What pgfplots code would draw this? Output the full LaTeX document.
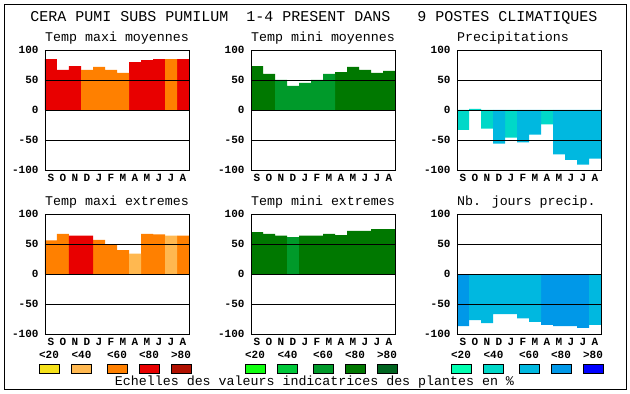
\documentclass[border=0pt]{standalone}
\usepackage{pgfplots}
\pgfplotsset{compat=1.18}
\usepackage{fontspec}
\setmainfont{Liberation Mono}
\setmonofont{Liberation Mono}
\definecolor{tyel}{HTML}{F5E11A}
\definecolor{tlor}{HTML}{FFB850}
\definecolor{tor}{HTML}{FF8000}
\definecolor{tred}{HTML}{E80000}
\definecolor{tdred}{HTML}{B01000}
\definecolor{ga}{HTML}{10FF10}
\definecolor{gb}{HTML}{00C83A}
\definecolor{gc}{HTML}{009A2A}
\definecolor{gd}{HTML}{007800}
\definecolor{ge}{HTML}{006420}
\definecolor{ba}{HTML}{00FFB0}
\definecolor{bb}{HTML}{00D8C8}
\definecolor{bc}{HTML}{00B8E0}
\definecolor{bd}{HTML}{0098E8}
\definecolor{be}{HTML}{0000FF}
\pgfplotsset{panel/.style={
  scale only axis, width=144pt, height=120pt, anchor=south west,
  xmin=-0.5, xmax=11.5, ymin=-100, ymax=100,
  ytick={-100,-50,0,50,100},
  xtick={0,...,11}, xticklabels={S,O,N,D,J,F,M,A,M,J,J,A},
  tick label style={font=\fontsize{11}{11}\selectfont\bfseries},
  /pgf/number format/assume math mode=true,
  major tick length=0pt,
  yticklabel style={xshift=-3pt},
  xticklabel style={yshift=-0.5pt},
  ymajorgrids, grid style={black, line width=0.9pt},
  axis line style={line width=0.9pt},
  axis on top,
  ybar, bar width=12pt, bar shift=0pt,
  every axis plot/.append style={draw=none},
}}
\newcommand\ttl[1]{\fontsize{13.3}{14}\selectfont #1}
\begin{document}
\begin{tikzpicture}
\useasboundingbox (0pt,0pt) rectangle (630pt,394pt);
\draw[line width=1pt] (4.5pt,4pt) rectangle (626pt,389.5pt);
\node[font=\fontsize{15}{16}\selectfont] at (314pt,376pt) {CERA PUMI SUBS PUMILUM\ \ 1-4 PRESENT DANS\ \ \ 9 POSTES CLIMATIQUES};
% titles
\node[anchor=west,inner sep=0pt] at (45pt,356pt) {\ttl{Temp maxi moyennes}};
\node[anchor=west,inner sep=0pt] at (251pt,356pt) {\ttl{Temp mini moyennes}};
\node[anchor=west,inner sep=0pt] at (457pt,356pt) {\ttl{Precipitations}};
\node[anchor=west,inner sep=0pt] at (45pt,192pt) {\ttl{Temp maxi extremes}};
\node[anchor=west,inner sep=0pt] at (251pt,192pt) {\ttl{Temp mini extremes}};
\node[anchor=west,inner sep=0pt] at (457pt,192pt) {\ttl{Nb. jours precip.}};

% Panel 1
\begin{axis}[panel, at={(45pt,224pt)}]
\addplot[fill=tred] coordinates {(0,85) (1,67) (2,73) (7,80) (8,83) (9,85) (11,85)};
\addplot[fill=tor] coordinates {(3,67) (4,72) (5,67) (6,62) (10,85)};
\end{axis}
% Panel 2
\begin{axis}[panel, at={(251pt,224pt)}]
\addplot[fill=gd] coordinates {(0,73) (1,60) (7,63) (8,72) (9,67) (10,62) (11,65)};
\addplot[fill=gc] coordinates {(2,50) (3,40) (4,45) (5,50) (6,60)};
\end{axis}
% Panel 3
\begin{axis}[panel, at={(457pt,224pt)}]
\addplot[fill=bb] coordinates {(0,-33) (1,2) (2,-31) (4,-46) (7,-24)};
\addplot[fill=bc] coordinates {(3,-56) (5,-54) (6,-41) (8,-74) (9,-83) (10,-91) (11,-81)};
\end{axis}
% Panel 4
\begin{axis}[panel, at={(45pt,60pt)}]
\addplot[fill=tor] coordinates {(0,56) (1,67) (4,57) (5,49) (6,40) (8,67) (9,66) (11,64)};
\addplot[fill=tred] coordinates {(2,64) (3,64)};
\addplot[fill=tlor] coordinates {(7,34) (10,64)};
\end{axis}
% Panel 5
\begin{axis}[panel, at={(251pt,60pt)}]
\addplot[fill=gd] coordinates {(0,70) (1,67) (2,64) (4,64) (5,64) (6,67) (7,65) (8,72) (9,72) (10,75) (11,75)};
\addplot[fill=gc] coordinates {(3,62)};
\end{axis}
% Panel 6
\begin{axis}[panel, at={(457pt,60pt)}]
\addplot[fill=bd] coordinates {(0,-87) (7,-85) (8,-87) (9,-87) (10,-90)};
\addplot[fill=bc] coordinates {(1,-77) (2,-82) (3,-67) (4,-67) (5,-74) (6,-80) (11,-85)};
\end{axis}

% legends
\foreach \ox/\ca/\cb/\cc/\cd/\ce in {45/tyel/tlor/tor/tred/tdred, 251/ga/gb/gc/gd/ge, 457/ba/bb/bc/bd/be}{
  \foreach \dx/\lab/\col in {4/<20/\ca, 36.5/<40/\cb, 72/<60/\cc, 104/<80/\cd, 136/>80/\ce}{
    \node[font=\fontsize{11}{11}\selectfont\bfseries] at (\ox pt+\dx pt,39.5pt) {\lab};
    \filldraw[fill=\col, draw=black, line width=0.8pt] (\ox pt+\dx pt-10pt,21pt) rectangle (\ox pt+\dx pt+10pt,30pt);
  }
}
\node[font=\fontsize{13.3}{14}\selectfont] at (314.5pt,12pt) {Echelles des valeurs indicatrices des plantes en \%};
\end{tikzpicture}
\end{document}
